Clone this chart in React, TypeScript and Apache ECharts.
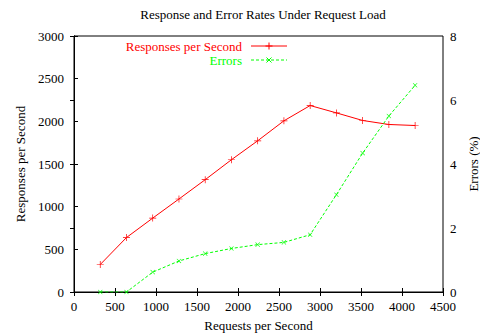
import React, { useEffect, useRef } from "react";
import * as echarts from "echarts";

const requests = [320, 640, 960, 1280, 1600, 1920, 2240, 2560, 2880, 3200, 3520, 3840, 4160];
const responses = [322, 638, 866, 1090, 1316, 1550, 1772, 2006, 2185, 2099, 2010, 1963, 1951];
const errors = [0, 0, 0.62, 0.97, 1.2, 1.36, 1.48, 1.55, 1.79, 3.04, 4.34, 5.5, 6.46];

const xTicks = { min: 0, max: 4500, interval: 500 };
const yTicks = { min: 0, max: 3000, interval: 500 };
const y2Ticks = { min: 0, max: 8, interval: 2 };

const RED = "#ff0000";
const GREEN = "#00ff00";
const FONT = "'Liberation Serif', 'Times New Roman', Times, serif";

const PLUS = "path://M-0.5,-5h1v4.5h4.5v1h-4.5v4.5h-1v-4.5h-4.5v-1h4.5z";

export default function App() {
  const ref = useRef<HTMLDivElement>(null);
  useEffect(() => {
    document.body.style.margin = "0";
    const chart = echarts.init(ref.current!, null, { renderer: "svg" });
    const axisText = { fontFamily: FONT, fontSize: 13, color: "#000" };
    const lineBlack = { color: "#000", width: 1 };
    const plain = (v: number) => String(v);
    const legendRow = (y: number, label: string, color: string, dash: number[] | null, cross: boolean) => {
      const cx = 269;
      const s = cross ? 2.5 : 3.5;
      const marks = cross
        ? [
            { type: "line", shape: { x1: cx - s, y1: y - s, x2: cx + s, y2: y + s }, style: { stroke: color, lineWidth: 1 } },
            { type: "line", shape: { x1: cx - s, y1: y + s, x2: cx + s, y2: y - s }, style: { stroke: color, lineWidth: 1 } },
          ]
        : [
            { type: "line", shape: { x1: cx - s, y1: y, x2: cx + s, y2: y }, style: { stroke: color, lineWidth: 1 } },
            { type: "line", shape: { x1: cx, y1: y - s, x2: cx, y2: y + s }, style: { stroke: color, lineWidth: 1 } },
          ];
      return [
        {
          type: "text",
          x: 242,
          y,
          style: { text: label, fill: color, fontFamily: FONT, fontSize: 13, align: "right", verticalAlign: "middle" },
        },
        {
          type: "line",
          shape: { x1: 251, y1: y, x2: 287, y2: y },
          style: { stroke: color, lineWidth: 1, lineDash: dash || undefined },
        },
        ...marks,
      ];
    };
    chart.setOption({
      animation: false,
      backgroundColor: "#fff",
      title: {
        text: "Response and Error Rates Under Request Load",
        left: 258,
        textAlign: "center",
        top: 3,
        textStyle: { fontFamily: FONT, fontSize: 13, fontWeight: "normal", color: "#000" },
      },
      grid: {
        left: 74,
        right: 37,
        top: 36,
        bottom: 42,
        show: true,
        borderColor: "#000",
        borderWidth: 1,
        containLabel: false,
        outerBoundsMode: "none",
      },
      xAxis: [
        {
          type: "value",
          ...xTicks,
          position: "bottom",
          name: "Requests per Second",
          nameLocation: "middle",
          nameGap: 27,
          nameTextStyle: axisText,
          axisLine: { show: true, lineStyle: lineBlack },
          axisTick: { show: true, inside: true, length: 4, lineStyle: lineBlack },
          axisLabel: { ...axisText, margin: 8, formatter: plain },
          splitLine: { show: false },
        },
        {
          type: "value",
          ...xTicks,
          position: "top",
          axisLine: { show: true, lineStyle: lineBlack },
          axisTick: { show: true, inside: true, length: 4, lineStyle: lineBlack },
          axisLabel: { show: false },
          splitLine: { show: false },
        },
      ],
      yAxis: [
        {
          type: "value",
          ...yTicks,
          position: "left",
          name: "Responses per Second",
          nameLocation: "middle",
          nameGap: 47,
          nameRotate: 90,
          nameTextStyle: axisText,
          axisLine: { show: true, lineStyle: lineBlack },
          axisTick: { show: true, inside: true, length: 4, lineStyle: lineBlack },
          axisLabel: { ...axisText, margin: 10, formatter: plain },
          splitLine: { show: false },
        },
        {
          type: "value",
          ...y2Ticks,
          position: "right",
          name: "Errors (%)",
          nameLocation: "middle",
          nameGap: 21,
          nameRotate: 90,
          nameTextStyle: axisText,
          axisLine: { show: true, lineStyle: lineBlack },
          axisTick: { show: true, inside: true, length: 4, lineStyle: lineBlack },
          axisLabel: { ...axisText, margin: 7, formatter: plain },
          splitLine: { show: false },
        },
      ],
      series: [
        {
          name: "Responses per Second",
          type: "line",
          xAxisIndex: 0,
          yAxisIndex: 0,
          data: requests.map((x, i) => [x, responses[i]]),
          symbol: PLUS,
          symbolSize: 7,
          lineStyle: { color: RED, width: 1 },
          itemStyle: { color: RED },
        },
        {
          name: "Errors",
          type: "line",
          xAxisIndex: 0,
          yAxisIndex: 1,
          data: requests.map((x, i) => [x, errors[i]]),
          symbol: PLUS,
          symbolRotate: 45,
          symbolSize: 6,
          lineStyle: { color: GREEN, width: 1, type: [3, 2] },
          itemStyle: { color: GREEN },
        },
      ],
      graphic: [
        ...legendRow(46, "Responses per Second", RED, null, false),
        ...legendRow(60, "Errors", GREEN, [3, 2], true),
      ],
    });
    return () => chart.dispose();
  }, []);
  return <div ref={ref} style={{ position: "fixed", left: 0, top: 0, width: 480, height: 334 }} />;
}
